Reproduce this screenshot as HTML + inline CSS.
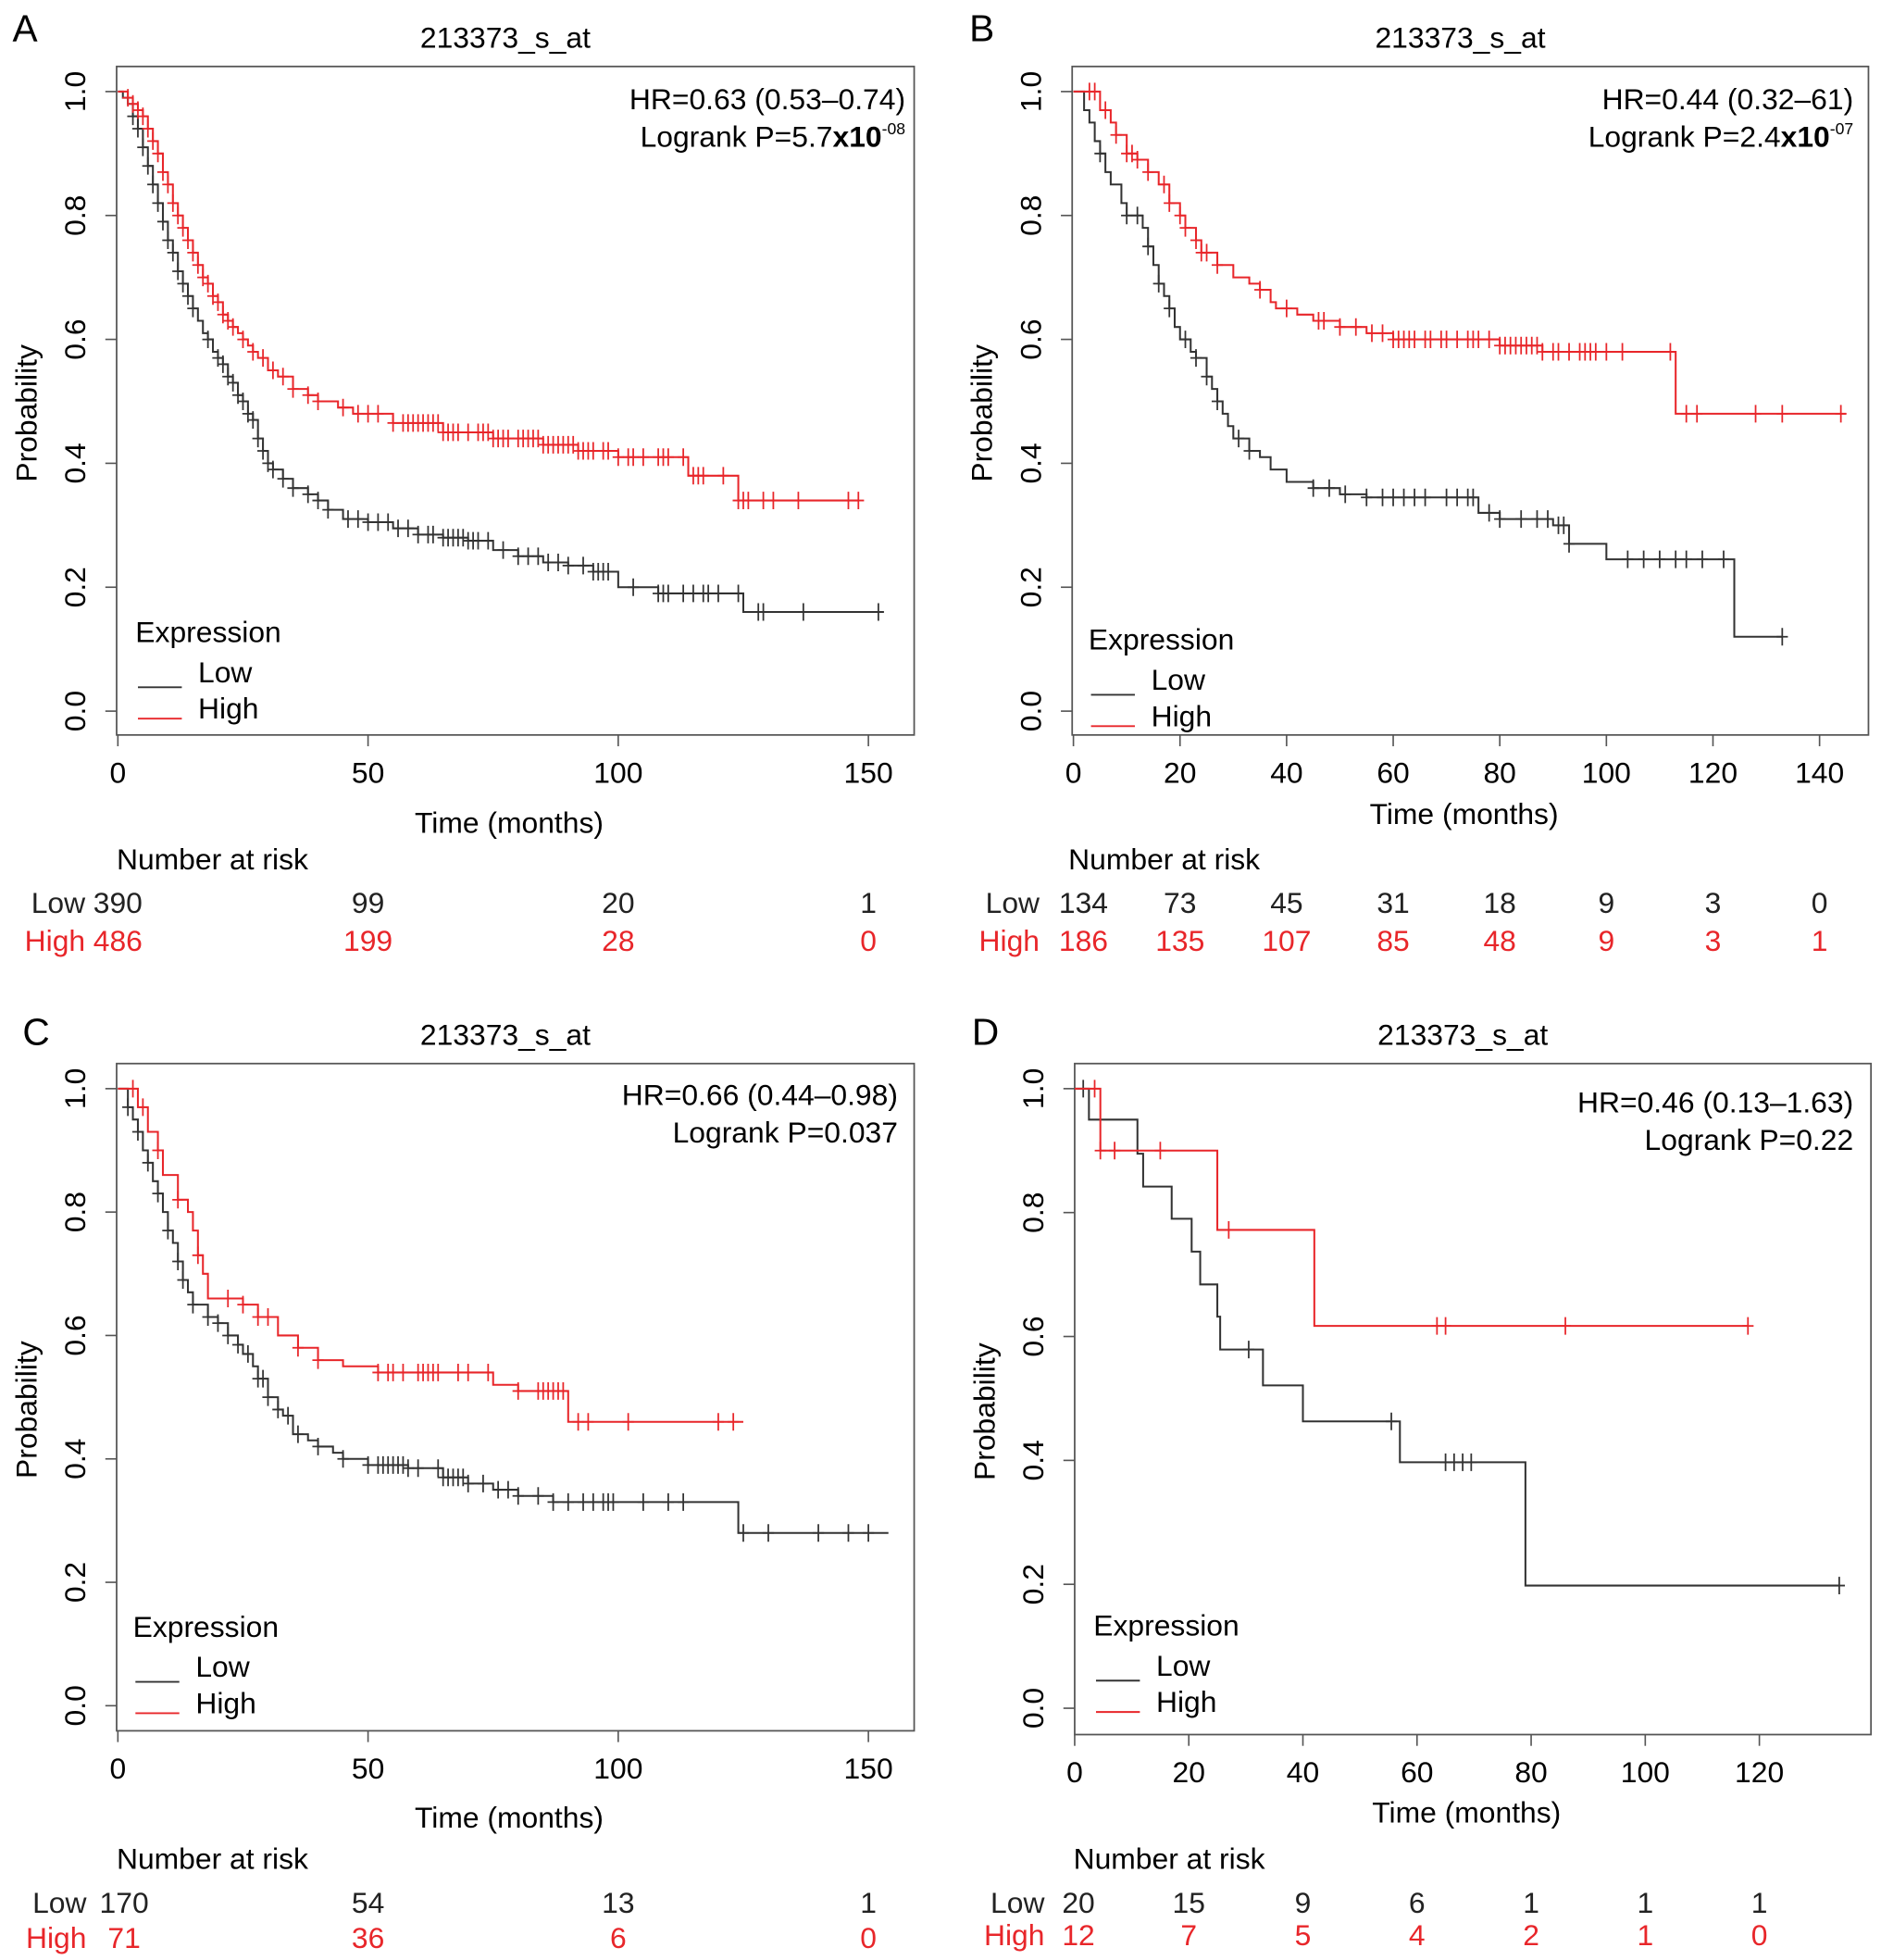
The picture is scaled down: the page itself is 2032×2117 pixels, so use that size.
<!DOCTYPE html>
<html><head><meta charset="utf-8"><style>
html,body{margin:0;padding:0;background:#fff}
svg{display:block;font-family:"Liberation Sans",Arial,sans-serif}
</style></head><body>
<svg id="fig" width="2032" height="2117" viewBox="0 0 2032 2117" xmlns="http://www.w3.org/2000/svg">
<g id="root" transform="scale(1.35467)"></g>
</svg>
<script>
// ---------- DATA ----------
const aLowSteps=[[0,1],[1,0.99],[2,0.98],[3,0.96],[4,0.94],[5,0.91],[6,0.88],[7,0.85],[8,0.82],[9,0.79],[10,0.76],[11,0.74],[12,0.71],[13,0.69],[14,0.67],[15,0.65],[16,0.63],[17,0.61],[18,0.6],[19,0.58],[20,0.57],[21,0.56],[22,0.54],[23,0.53],[24,0.51],[25,0.5],[26,0.48],[27,0.47],[28,0.44],[29,0.42],[30,0.40],[31,0.39],[33,0.375],[35,0.36],[38,0.35],[40,0.34],[42,0.325],[45,0.31],[50,0.305],[55,0.295],[60,0.285],[65,0.28],[70,0.275],[75,0.26],[80,0.25],[85,0.24],[90,0.235],[95,0.225],[100,0.20],[108,0.19],[125,0.16]];
const aLowEnd=153;
const aLowCens=[3,4,5,6,7,8,9,10,11,12,13,14,15,18,20,21,22,23,24,25,26,27,28,29,30,31,33,35,38,40,42,46,48,50,52,54,56,58,60,62,63,65,66,67,68,69,70,71,72,74,77,80,82,84,86,88,90,93,95,96,97,98,103,108,109,110,113,115,117,118,120,124,128,129,137,152];
const aHighSteps=[[0,1],[2,0.99],[3,0.98],[4,0.97],[5,0.96],[6,0.94],[7,0.92],[8,0.9],[9,0.87],[10,0.85],[11,0.82],[12,0.8],[13,0.78],[14,0.76],[15,0.74],[16,0.72],[17,0.7],[18,0.69],[19,0.67],[20,0.66],[21,0.64],[22,0.63],[23,0.62],[24,0.61],[25,0.6],[26,0.59],[27,0.58],[28,0.57],[30,0.55],[32,0.54],[35,0.52],[38,0.51],[40,0.5],[44,0.49],[47,0.48],[55,0.465],[65,0.45],[75,0.44],[85,0.43],[92,0.42],[100,0.41],[114,0.38],[124,0.34]];
const aHighEnd=148;
const aHighCens=[2,3,4,5,6,7,8,9,10,11,12,13,14,15,16,17,18,19,20,21,22,23,25,27,29,31,33,35,38,40,45,48,50,52,55,57,58,59,60,61,62,63,64,65,66,67,68,70,72,73,74,75,76,77,78,80,81,82,83,84,85,86,87,88,89,90,91,92,93,94,95,97,98,100,102,103,105,108,109,110,113,115,116,117,121,124,125,126,129,131,136,146,148];

const bLowSteps=[[0,1],[2,0.97],[3,0.95],[4,0.92],[5,0.9],[6,0.87],[7,0.85],[9,0.82],[10,0.8],[13,0.78],[14,0.75],[15,0.72],[16,0.69],[17,0.67],[18,0.65],[19,0.62],[20,0.6],[22,0.58],[23,0.57],[25,0.54],[26,0.52],[27,0.5],[28,0.48],[29,0.46],[30,0.44],[33,0.42],[35,0.41],[37,0.39],[40,0.37],[45,0.36],[50,0.35],[55,0.345],[76,0.32],[80,0.31],[90,0.30],[93,0.27],[100,0.245],[124,0.12]];
const bLowEnd=133;
const bLowCens=[5,10,12,14,16,18,21,23,25,27,31,33,45,48,51,55,58,60,62,64,66,70,72,74,75,78,80,84,87,89,91,92,93,104,107,110,113,115,118,122,133];
const bHighSteps=[[0,1],[5,0.97],[7,0.95],[8,0.93],[10,0.9],[12,0.89],[14,0.87],[16,0.85],[18,0.82],[20,0.8],[21,0.78],[23,0.76],[24,0.74],[27,0.72],[30,0.70],[33,0.69],[35,0.68],[37,0.66],[38,0.65],[42,0.64],[45,0.63],[50,0.62],[55,0.61],[60,0.60],[80,0.59],[88,0.58],[113,0.48]];
const bHighEnd=145;
const bHighCens=[3,4,6,8,10,11,12,14,17,18,20,21,23,24,25,27,35,40,46,47,50,53,56,58,60,61,62,63,64,66,67,69,70,72,74,75,76,78,80,81,82,83,84,85,86,87,88,90,91,93,95,96,97,98,100,103,112,115,117,128,133,144];

const cLowSteps=[[0,1],[2,0.97],[3,0.95],[4,0.93],[5,0.9],[6,0.88],[7,0.85],[8,0.83],[9,0.8],[10,0.77],[11,0.75],[12,0.72],[13,0.69],[14,0.67],[15,0.65],[18,0.63],[20,0.62],[22,0.6],[24,0.585],[25,0.57],[27,0.55],[28,0.53],[30,0.5],[32,0.48],[33,0.47],[35,0.44],[38,0.43],[40,0.42],[43,0.41],[45,0.4],[50,0.39],[58,0.385],[65,0.37],[70,0.36],[75,0.35],[80,0.34],[87,0.33],[124,0.28]];
const cLowEnd=154;
const cLowCens=[2,4,6,8,10,12,13,15,18,20,22,24,26,28,29,30,32,34,36,40,45,50,52,53,54,55,56,57,58,60,64,65,66,67,68,69,70,73,76,78,80,84,87,90,93,95,97,98,99,105,110,113,125,130,140,146,150];
const cHighSteps=[[0,1],[4,0.97],[6,0.93],[8,0.9],[9,0.86],[12,0.82],[14,0.8],[15,0.77],[16,0.73],[17,0.7],[18,0.66],[25,0.65],[28,0.63],[32,0.6],[36,0.58],[40,0.56],[45,0.55],[52,0.54],[75,0.52],[80,0.51],[90,0.46]];
const cHighEnd=125;
const cHighCens=[3,5,8,12,16,22,25,28,30,36,40,52,54,55,57,60,61,62,63,64,68,70,74,80,84,85,86,87,88,89,92,94,102,120,123];

const dLowSteps=[[0,1],[2.5,0.95],[11,0.895],[12,0.842],[17,0.79],[20.5,0.737],[22,0.684],[25,0.632],[25.5,0.579],[33,0.521],[40,0.463],[57,0.397],[79,0.198]];
const dLowEnd=134;
const dLowCens=[1.5,30.5,55.5,65,66.5,68,69.5,134];
const dHighSteps=[[0,1],[4.5,0.9],[25,0.772],[42,0.617]];
const dHighEnd=118;
const dHighCens=[3.5,4.5,7,15,27,63.5,65,86,118];

const riskLowA=[390,99,20,1], riskHighA=[486,199,28,0];
const riskLowB=[134,73,45,31,18,9,3,0], riskHighB=[186,135,107,85,48,9,3,1];
const riskLowC=[170,54,13,1], riskHighC=[71,36,6,0];
const riskLowD=[20,15,9,6,1,1,1], riskHighD=[12,7,5,4,2,1,0];
const xTicksA=[0,50,100,150], xTicksB=[0,20,40,60,80,100,120,140], xTicksD=[0,20,40,60,80,100,120];
const yTicks=[0,0.2,0.4,0.6,0.8,1.0];

// ---------- DRAW ----------
const NS="http://www.w3.org/2000/svg";
const root=document.getElementById('root');
const FS=23.5;
function el(tag,attrs,parent,text){const e=document.createElementNS(NS,tag);for(const k in attrs)e.setAttribute(k,attrs[k]);if(text!==undefined)e.textContent=text;(parent||root).appendChild(e);return e;}
function surv(steps,t){let v=1;for(const s of steps){if(s[0]<=t)v=s[1];}return v;}

function panel(p){
  const g=el('g',{});
  
  
  const X=t=>p.x0+(t-0)*p.pxPerT, Y=v=>p.y0-(p.y0-p.y1)*v;
  let t=el('text',{x:p.lx,y:p.ly,'font-size':30},g,p.id);
  
  t=el('text',{x:(p.bx0+p.bx1)/2-8,y:p.by0-15,'font-size':FS,'text-anchor':'middle'},g,'213373_s_at');
  
  const box=el('rect',{x:p.bx0,y:p.by0,width:p.bx1-p.bx0,height:p.by1-p.by0,fill:'none',stroke:'#555','stroke-width':1.3},g);
  
  for(const v of yTicks){
    const ln=el('line',{x1:p.bx0-9,x2:p.bx0,y1:Y(v),y2:Y(v),stroke:'#555','stroke-width':1.2},g);
    
    const tx=el('text',{x:0,y:0,'font-size':FS,'text-anchor':'middle',transform:`translate(${p.bx0-25},${Y(v)}) rotate(-90)`},g,v.toFixed(1));
    
  }
  t=el('text',{x:0,y:0,'font-size':FS,'text-anchor':'middle',transform:`translate(${p.bx0-64},${(p.by0+p.by1)/2+10}) rotate(-90)`},g,'Probability');
  
  for(const v of p.xTicks){
    const ln=el('line',{x1:X(v),x2:X(v),y1:p.by1,y2:p.by1+9,stroke:'#555','stroke-width':1.2},g);
    
    const tx=el('text',{x:X(v),y:p.by1+38,'font-size':FS,'text-anchor':'middle'},g,String(v));
    
  }
  t=el('text',{x:(p.bx0+p.bx1)/2-5,y:p.timeY,'font-size':FS,'text-anchor':'middle'},g,'Time (months)');
  
  function curve(steps,end,cens,color,name){
    let d=`M${X(steps[0][0])},${Y(steps[0][1])}`;
    for(let i=1;i<steps.length;i++){d+=` H${X(steps[i][0])} V${Y(steps[i][1])}`;}
    d+=` H${X(end)}`;
    const pa=el('path',{d:d,fill:'none',stroke:color,'stroke-width':1.5},g);
    
    for(const c of cens){
      const cx=X(c),cy=Y(surv(steps,c));
      const m=el('path',{d:`M${cx-4.5},${cy} H${cx+4.5} M${cx},${cy-7} V${cy+7}`,stroke:color,'stroke-width':1.3,fill:'none'},g);
      
    }
  }
  curve(p.low,p.lowEnd,p.lowCens,'#333','low');
  curve(p.high,p.highEnd,p.highCens,'#e8262a','high');
  t=el('text',{x:p.hrX,y:p.hrY,'font-size':FS,'text-anchor':'end'},g,p.hr);
  
  t=el('text',{x:p.hrX,y:p.hrY+30,'font-size':FS,'text-anchor':'end'},g);
  
  if(p.pExp){
    el('tspan',{},t,p.p);el('tspan',{'font-weight':'bold'},t,'x10');
    el('tspan',{'font-size':13,dy:-10},t,p.pExp);
  } else t.textContent=p.p;
  const lg=el('g',{},g);
  el('text',{x:p.legX,y:p.legY,'font-size':FS},lg,'Expression');
  el('line',{x1:p.legX+2,x2:p.legX+37,y1:p.legY+36,y2:p.legY+36,stroke:'#333','stroke-width':1.4},lg);
  el('text',{x:p.legX+50,y:p.legY+32,'font-size':FS},lg,'Low');
  el('line',{x1:p.legX+2,x2:p.legX+37,y1:p.legY+61,y2:p.legY+61,stroke:'#e8262a','stroke-width':1.4},lg);
  el('text',{x:p.legX+50,y:p.legY+61,'font-size':FS},lg,'High');
  t=el('text',{x:p.narX,y:p.narY,'font-size':FS},g,'Number at risk');
  
  t=el('text',{x:p.rlX,y:p.narY+35,'font-size':FS,'text-anchor':'end',fill:'#222'},g,'Low');
  
  t=el('text',{x:p.rlX,y:p.narY+p.highDy,'font-size':FS,'text-anchor':'end',fill:'#e8262a'},g,'High');
  
  p.riskLow.forEach((v,i)=>{
    const tx=el('text',{x:X(p.xTicks[i])+(i==0?p.firstOff:0),y:p.narY+35,'font-size':FS,'text-anchor':'middle',fill:'#222'},g,String(v));
    
  });
  p.riskHigh.forEach((v,i)=>{
    const tx=el('text',{x:X(p.xTicks[i])+(i==0?p.firstOff:0),y:p.narY+p.highDy,'font-size':FS,'text-anchor':'middle',fill:'#e8262a'},g,String(v));
    
  });
}

panel({id:'A',lx:10,ly:33,bx0:93,bx1:729,by0:53,by1:586,x0:94,pxPerT:3.99,y0:567,y1:73,xTicks:xTicksA,timeY:664,
 low:aLowSteps,lowEnd:aLowEnd,lowCens:aLowCens,high:aHighSteps,highEnd:aHighEnd,highCens:aHighCens,
 hr:'HR=0.63 (0.53\u20130.74)',p:'Logrank P=5.7',pExp:'-08',hrX:722,hrY:87,legX:108,legY:512,
 narX:93,narY:693,highDy:65,rlX:68,firstOff:0,riskLow:riskLowA,riskHigh:riskHighA});
panel({id:'B',lx:773,ly:33,bx0:855,bx1:1490,by0:53,by1:586,x0:856,pxPerT:4.25,y0:567,y1:73,xTicks:xTicksB,timeY:657,
 low:bLowSteps,lowEnd:bLowEnd,lowCens:bLowCens,high:bHighSteps,highEnd:bHighEnd,highCens:bHighCens,
 hr:'HR=0.44 (0.32\u201361)',p:'Logrank P=2.4',pExp:'-07',hrX:1478,hrY:87,legX:868,legY:518,
 narX:852,narY:693,highDy:65,rlX:829,firstOff:8,riskLow:riskLowB,riskHigh:riskHighB});
panel({id:'C',lx:18,ly:833,bx0:93,bx1:729,by0:848,by1:1380,x0:94,pxPerT:3.99,y0:1360,y1:868,xTicks:xTicksA,timeY:1457,
 low:cLowSteps,lowEnd:cLowEnd,lowCens:cLowCens,high:cHighSteps,highEnd:cHighEnd,highCens:cHighCens,
 hr:'HR=0.66 (0.44\u20130.98)',p:'Logrank P=0.037',pExp:null,hrX:716,hrY:881,legX:106,legY:1305,
 narX:93,narY:1490,highDy:63,rlX:69,firstOff:5,riskLow:riskLowC,riskHigh:riskHighC});
panel({id:'D',lx:775,ly:833,bx0:857,bx1:1492,by0:848,by1:1383,x0:857,pxPerT:4.55,y0:1362,y1:868,xTicks:xTicksD,timeY:1453,
 low:dLowSteps,lowEnd:dLowEnd,lowCens:dLowCens,high:dHighSteps,highEnd:dHighEnd,highCens:dHighCens,
 hr:'HR=0.46 (0.13\u20131.63)',p:'Logrank P=0.22',pExp:null,hrX:1478,hrY:887,legX:872,legY:1304,
 narX:856,narY:1490,highDy:61,rlX:833,firstOff:3,riskLow:riskLowD,riskHigh:riskHighD});
</script>
</body></html>
